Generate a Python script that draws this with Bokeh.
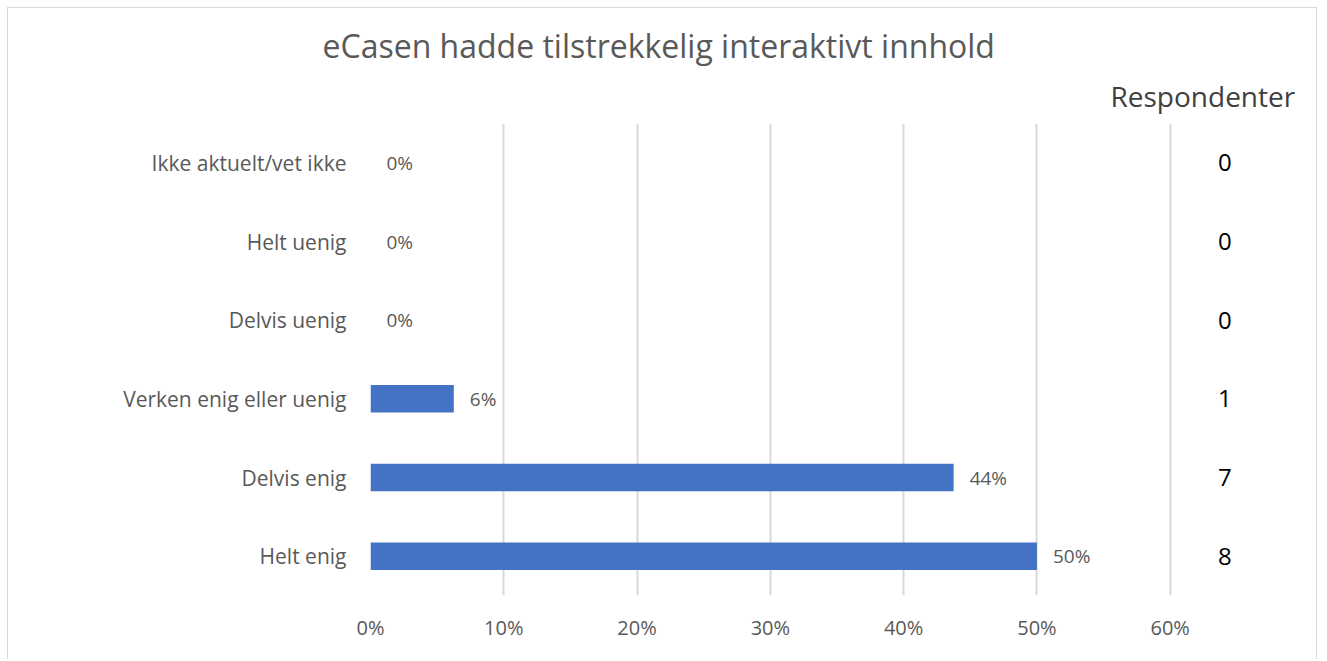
from bokeh.plotting import figure
from bokeh.models import ColumnDataSource, FactorRange, Range1d, FixedTicker, Title, NumeralTickFormatter
from bokeh.core.properties import value
from bokeh.embed import file_html
from bokeh.resources import INLINE

title = "eCasen hadde tilstrekkelig interaktivt innhold"
categories = ["Ikke aktuelt/vet ikke", "Helt uenig", "Delvis uenig",
              "Verken enig eller uenig", "Delvis enig", "Helt enig"]
shares = [0.0, 0.0, 0.0, 0.0625, 0.4375, 0.50]
share_labels = ["0%", "0%", "0%", "6%", "44%", "50%"]
respondents = [0, 0, 0, 1, 7, 8]
x_ticks = [0.0, 0.1, 0.2, 0.3, 0.4, 0.5, 0.6]
count_header = "Respondenter"

FONT = "Open Sans"
GREY = "#595959"

src = ColumnDataSource(dict(cat=categories, share=shares, lab=share_labels,
                            resp=[str(r) for r in respondents],
                            respx=[0.641] * len(categories)))

p = figure(width=1310, height=652, output_backend="svg", toolbar_location=None,
           y_range=FactorRange(factors=categories[::-1], range_padding=0),
           x_range=Range1d(0, 0.70),
           min_border_left=362, min_border_right=15, min_border_top=115, min_border_bottom=65)
p.styles = {"border-left": "1px solid #d9d9d9", "border-top": "1px solid #d9d9d9",
            "border-right": "1px solid #d9d9d9", "margin-left": "7px", "margin-top": "7px"}

# header over the respondent column (closest to the frame)
p.add_layout(Title(text=count_header, align="left", offset=740, standoff=17,
                   text_font=FONT, text_font_size="28px", text_font_style="normal",
                   text_color="#404040"), "above")

p.title.text = title
p.title.align = "left"
p.title.offset = -48
p.title.text_font = FONT
p.title.text_font_size = "32px"
p.title.text_font_style = "normal"
p.title.text_color = GREY
p.title.standoff = 0

p.hbar(y="cat", right="share", left=0, height=0.35, source=src,
       fill_color="#4472C4", line_color=None)

p.text(x="share", y="cat", text="lab", source=src, x_offset=16,
       text_align="left", text_baseline="middle", text_font=value(FONT),
       text_font_size="19px", text_color=GREY)

p.text(x="respx", y="cat", text="resp", source=src,
       text_align="center", text_baseline="middle", text_font=value(FONT),
       text_font_size="24px", text_color="#000000")

p.xaxis.ticker = FixedTicker(ticks=x_ticks)
p.xaxis.formatter = NumeralTickFormatter(format="0%")
for ax in (p.xaxis, p.yaxis):
    ax.axis_line_color = None
    ax.major_tick_line_color = None
    ax.minor_tick_line_color = None
    ax.major_label_text_font = FONT
    ax.major_label_text_color = GREY
p.xaxis.major_label_text_font_size = "20px"
p.yaxis.major_label_text_font_size = "21px"
p.xaxis.major_label_standoff = 12
p.yaxis.major_label_standoff = 18

p.xgrid.ticker = FixedTicker(ticks=x_ticks)
p.xgrid.grid_line_color = "#d9d9d9"
p.xgrid.grid_line_width = 2
p.ygrid.grid_line_color = None
p.outline_line_color = None

open("out.html", "w").write(file_html(p, INLINE))
